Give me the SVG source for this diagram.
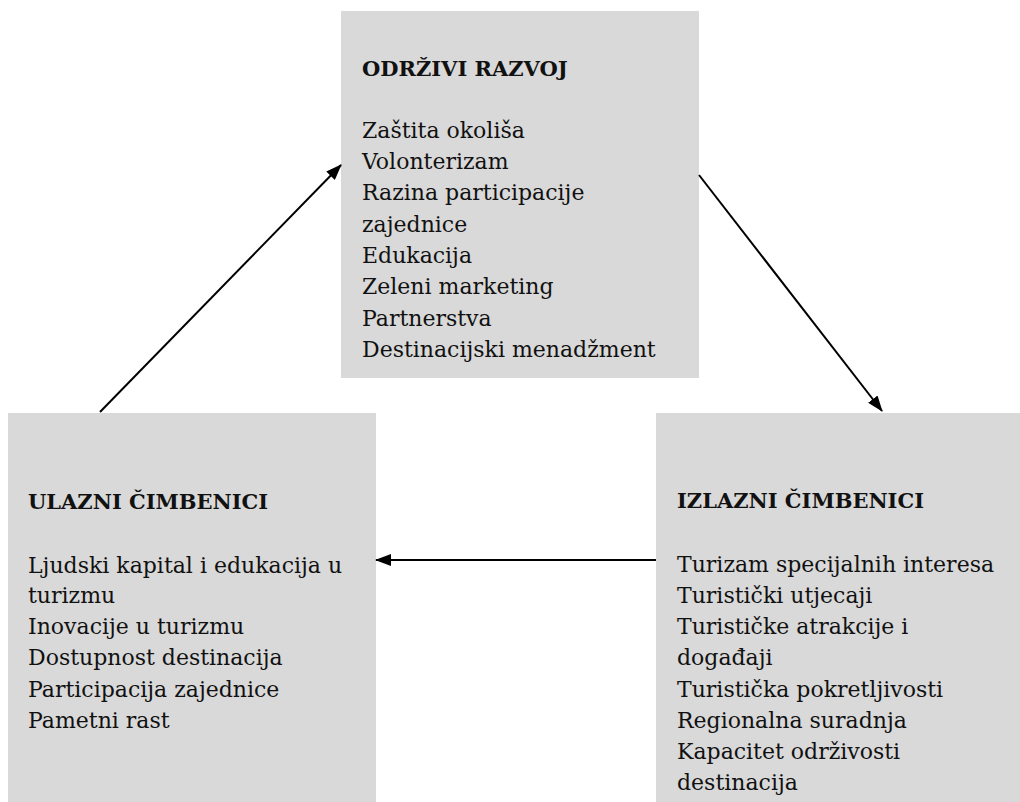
<svg xmlns="http://www.w3.org/2000/svg" width="1020" height="802" viewBox="0 0 1020 802">
<style>
.box{fill:#d9d9d9;}
.t{font-family:"DejaVu Serif","Liberation Serif",serif;font-size:22px;fill:#111;}
.h{font-weight:bold;font-size:21px;}
.c{stroke:#000;stroke-width:2;fill:none;}
</style>
<defs>
<marker id="ah" markerWidth="16" markerHeight="12" refX="15" refY="6" orient="auto" markerUnits="userSpaceOnUse" viewBox="0 0 16 12">
<path d="M0,0 L16,6 L0,12 z" fill="#000"/>
</marker>
</defs>
<rect width="1020" height="802" fill="#fff"/>
<g id="odrzivi">
<rect class="box" x="341" y="11" width="358" height="367"/>
<text class="t h" x="362" y="76">ODRŽIVI RAZVOJ</text>
<text class="t" x="362" y="138">Zaštita okoliša</text>
<text class="t" x="362" y="169">Volonterizam</text>
<text class="t" x="362" y="200">Razina participacije</text>
<text class="t" x="362" y="232">zajednice</text>
<text class="t" x="362" y="263">Edukacija</text>
<text class="t" x="362" y="294">Zeleni marketing</text>
<text class="t" x="362" y="326">Partnerstva</text>
<text class="t" x="362" y="357">Destinacijski menadžment</text>
</g>
<g id="ulazni">
<rect class="box" x="8" y="413" width="368" height="389"/>
<text class="t h" x="28" y="509">ULAZNI ČIMBENICI</text>
<text class="t" x="28" y="573">Ljudski kapital i edukacija u</text>
<text class="t" x="28" y="603">turizmu</text>
<text class="t" x="28" y="634">Inovacije u turizmu</text>
<text class="t" x="28" y="665">Dostupnost destinacija</text>
<text class="t" x="28" y="697">Participacija zajednice</text>
<text class="t" x="28" y="728">Pametni rast</text>
</g>
<g id="izlazni">
<rect class="box" x="656" y="413" width="364" height="389"/>
<text class="t h" x="677" y="508">IZLAZNI ČIMBENICI</text>
<text class="t" x="677" y="572">Turizam specijalnih interesa</text>
<text class="t" x="677" y="603">Turistički utjecaji</text>
<text class="t" x="677" y="634">Turističke atrakcije i</text>
<text class="t" x="677" y="665">događaji</text>
<text class="t" x="677" y="697">Turistička pokretljivosti</text>
<text class="t" x="677" y="728">Regionalna suradnja</text>
<text class="t" x="677" y="759">Kapacitet održivosti</text>
<text class="t" x="677" y="790">destinacija</text>
</g>
<g id="connectors">
<line class="c" x1="100" y1="412" x2="341" y2="165" marker-end="url(#ah)"/>
<line class="c" x1="699" y1="175" x2="882" y2="411" marker-end="url(#ah)"/>
<line class="c" x1="656" y1="560" x2="376" y2="560" marker-end="url(#ah)"/>
</g>
</svg>
